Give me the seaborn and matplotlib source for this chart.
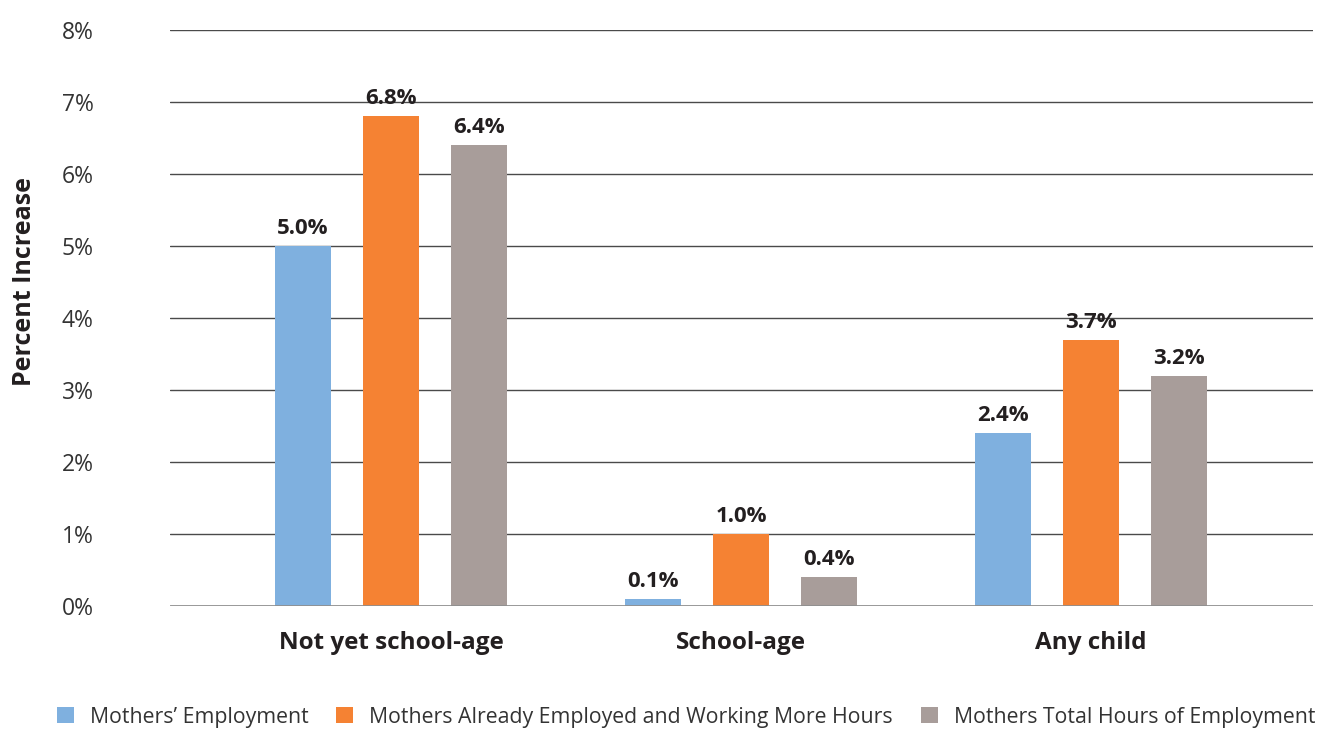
import matplotlib
matplotlib.use("Agg")
import matplotlib.pyplot as plt
from matplotlib.patches import Patch
import seaborn as sns
import pandas as pd

# Data
groups = ["Not yet school-age", "School-age", "Any child"]
series = ["Mothers\u2019 Employment",
          "Mothers Already Employed and Working More Hours",
          "Mothers Total Hours of Employment"]
employment = [5.0, 0.1, 2.4]
more_hours = [6.8, 1.0, 3.7]
total_hours = [6.4, 0.4, 3.2]
colors = ["#7fb0df", "#f58233", "#a89d9a"]
y_ticks = [0, 1, 2, 3, 4, 5, 6, 7, 8]

rows = []
for s, vals in zip(series, [employment, more_hours, total_hours]):
    for g, v in zip(groups, vals):
        rows.append({"group": g, "series": s, "value": v})
df = pd.DataFrame(rows)

sns.set_style("white")
plt.rcParams["font.family"] = ["Open Sans", "DejaVu Sans"]
text_color = "#231f20"

fig = plt.figure(figsize=(13.28, 7.30), dpi=100)
ax = fig.add_axes([170 / 1328, 1 - 606 / 730, (1313 - 170) / 1328, (606 - 30) / 730])

sns.barplot(data=df, x="group", y="value", hue="series", order=groups,
            hue_order=series, palette=colors, saturation=1,
            width=0.754, gap=0.364, linewidth=0, ax=ax, legend=False, zorder=3)

ax.set_xlim(-0.631, 2.634)
ax.set_ylim(0, 8)
ax.set_yticks(y_ticks)
ax.set_yticklabels([f"{t}%" for t in y_ticks], fontsize=16.5, color="#333333")
ax.tick_params(axis="y", length=0, pad=55)
ax.tick_params(axis="x", length=0, pad=18)
ax.set_xticks(range(len(groups)))
ax.set_xticklabels(groups, fontsize=17.5, fontweight="bold", color=text_color)

for t in y_ticks[1:]:
    ax.axhline(t, color="#4a4a4a", linewidth=1.0, zorder=1)
ax.axhline(0, color="#8f8f8f", linewidth=2.0, zorder=4)

for sp in ax.spines.values():
    sp.set_visible(False)

ax.set_xlabel("")
ax.set_ylabel("Percent Increase", fontsize=18, fontweight="bold", color=text_color)
ax.yaxis.set_label_coords(-0.116, 0.5625)

for cont in ax.containers:
    ax.bar_label(cont, labels=[f"{v:.1f}%" for v in cont.datavalues],
                 fontsize=16, fontweight="bold", color=text_color, padding=5)

handles = [Patch(facecolor=c, edgecolor="none") for c in colors]
fig.legend(handles, series, loc="center", bbox_to_anchor=(686 / 1328, 1 - 717 / 730),
           ncol=3, frameon=False, fontsize=15.3, handlelength=0.8, handleheight=0.8,
           handletextpad=0.75, columnspacing=1.32, labelcolor="#333333",
           borderpad=0, borderaxespad=0)

fig.savefig("out.png", dpi=100)
